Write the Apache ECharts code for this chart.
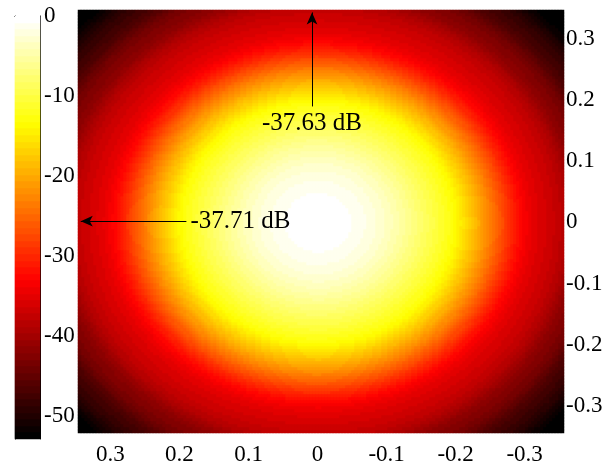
<!DOCTYPE html>
<html>
<head>
<meta charset="utf-8">
<script src="https://cdn.jsdelivr.net/npm/echarts@6/dist/echarts.min.js"></script>
<style>
  html, body { margin: 0; padding: 0; background: #fff; }
  #chart { width: 609px; height: 471px; }
</style>
</head>
<body>
<div id="chart"></div>
<script>
// Radial beam profile (dB), one sample every 0.01 from the beam centre outwards
const profileStep = 0.01;
const profileDb = [
  0, -0.04, -0.15, -0.33, -0.58, -0.88, -1.25, -1.7, -2.2, -2.8,
  -3.5, -4.3, -5.2, -6.1, -7.1, -8.1, -9.1, -10.1, -11.2, -12.3,
  -13.6, -15.4, -17.3, -19.2, -21.2, -23.3, -25.5, -27.7, -29.9, -31.9,
  -33.5, -34.7, -35.6, -36.3, -37.0, -37.8, -38.9, -40.4, -41.8, -42.6,
  -43.4, -44.9, -46.5, -47.6, -48.3, -49.5, -51.0, -52.2, -52.7, -52.9,
  -52.9, -52.9
];

// Axis extents and tick labels
const xRange = [-0.357, 0.347];
const yRange = [-0.345, 0.348];
const xTicks = [0.3, 0.2, 0.1, 0, -0.1, -0.2, -0.3];
const yTicks = [0.3, 0.2, 0.1, 0, -0.1, -0.2, -0.3];
const dbRange = [-52.9, 0];
const cbTicks = [0, -10, -20, -30, -40, -50];

// Edge readouts with arrows
const annotations = [
  { text: '-37.63 dB', from: [0.008, 0.19], to: [0.008, 0.344] },
  { text: '-37.71 dB', from: [0.19, 0.002], to: [0.343, 0.002] }
];

// "hot" colour map: black -> red -> yellow -> white, 64 levels
const hotStops = ['#000000', '#550000', '#aa0000', '#ff0000', '#ff5500',
                  '#ffaa00', '#ffff00', '#ffff80', '#ffffff'];
const levels = 64;

const FONT = 'Liberation Serif';
// image cells: 3 px each over a 486 x 423 plot area
const nx = 162, ny = 141;
// colour bar rows: 1 px each over its 423 px height
const cbRows = 423;

function profileAt(r) {
  const p = r / profileStep;
  const i = Math.floor(p);
  if (i >= profileDb.length - 1) return profileDb[profileDb.length - 1];
  const f = p - i;
  return profileDb[i] * (1 - f) + profileDb[i + 1] * f;
}

function clampDb(v) {
  return Math.max(dbRange[0] + 0.001, Math.min(dbRange[1] - 0.001, v));
}

const dx = (xRange[1] - xRange[0]) / nx;
const dy = (yRange[1] - yRange[0]) / ny;
const xCats = [], yCats = [];
for (let i = 0; i < nx; i++) xCats.push((xRange[0] + (i + 0.5) * dx).toFixed(5));
for (let j = 0; j < ny; j++) yCats.push((yRange[0] + (j + 0.5) * dy).toFixed(5));

const beam = [];
for (let i = 0; i < nx; i++) {
  const x = +xCats[i];
  for (let j = 0; j < ny; j++) {
    const y = +yCats[j];
    beam.push([i, j, clampDb(profileAt(Math.hypot(x, y)))]);
  }
}

// Colour bar rows spanning the dB range
const cbCats = [], cbData = [];
const rowStep = (dbRange[1] - dbRange[0]) / cbRows;
for (let k = 0; k < cbRows; k++) {
  cbCats.push(String(k));
  cbData.push([0, k, clampDb(dbRange[0] + (k + 0.5) * rowStep)]);
}

const tickLabel = { fontFamily: FONT, fontSize: 23, color: '#000' };
const hidden = { show: false };
const frameLine = { show: true, lineStyle: { color: '#000', width: 1 } };

const chart = echarts.init(document.getElementById('chart'), null, { renderer: 'canvas' });
chart.setOption({
  animation: false,
  backgroundColor: '#fff',
  grid: [
    { left: 78, top: 10, width: 486, height: 423, containLabel: false },
    { left: 15, top: 16, width: 25, height: 423, containLabel: false }
  ],
  xAxis: [
    { type: 'category', gridIndex: 0, data: xCats, inverse: true, show: false },
    {
      type: 'value', gridIndex: 0, min: xRange[0], max: xRange[1], inverse: true,
      position: 'bottom',
      axisLine: hidden, axisTick: hidden, splitLine: hidden,
      axisLabel: Object.assign({ customValues: xTicks, margin: 10 }, tickLabel)
    },
    {
      type: 'category', gridIndex: 1, data: ['cb'], position: 'bottom',
      axisLine: frameLine, axisTick: hidden, axisLabel: hidden
    },
    {
      type: 'category', gridIndex: 1, data: ['cb'], position: 'top',
      axisLine: frameLine, axisTick: hidden, axisLabel: hidden
    }
  ],
  yAxis: [
    { type: 'category', gridIndex: 0, data: yCats, show: false },
    {
      type: 'value', gridIndex: 0, min: yRange[0], max: yRange[1],
      position: 'right',
      axisLine: hidden, axisTick: hidden, splitLine: hidden,
      axisLabel: Object.assign({ customValues: yTicks, margin: 2 }, tickLabel)
    },
    { type: 'category', gridIndex: 1, data: cbCats, show: false },
    {
      type: 'value', gridIndex: 1, min: dbRange[0], max: dbRange[1],
      position: 'right',
      axisLine: frameLine,
      axisTick: { show: true, inside: true, length: 4, customValues: cbTicks, lineStyle: { color: '#000' } },
      splitLine: hidden,
      axisLabel: Object.assign({ customValues: cbTicks, margin: 4 }, tickLabel)
    },
    {
      type: 'value', gridIndex: 1, min: dbRange[0], max: dbRange[1],
      position: 'left',
      axisLine: frameLine,
      axisTick: { show: true, inside: true, length: 4, customValues: cbTicks, lineStyle: { color: '#000' } },
      splitLine: hidden, axisLabel: hidden
    }
  ],
  visualMap: {
    type: 'piecewise',
    show: false,
    min: dbRange[0],
    max: dbRange[1],
    splitNumber: levels,
    seriesIndex: [0, 1],
    dimension: 2,
    inRange: { color: hotStops }
  },
  series: [
    {
      type: 'heatmap', xAxisIndex: 0, yAxisIndex: 0,
      data: beam, progressive: 0, silent: true,
      itemStyle: { borderWidth: 0 }
    },
    {
      type: 'heatmap', xAxisIndex: 2, yAxisIndex: 2,
      data: cbData, progressive: 0, silent: true,
      itemStyle: { borderWidth: 0 }
    },
    {
      type: 'line', xAxisIndex: 1, yAxisIndex: 1, data: [],
      markLine: {
        silent: true,
        animation: false,
        symbol: ['none', 'arrow'],
        symbolSize: [8, 12],
        lineStyle: { color: '#000', width: 1, type: 'solid' },
        label: {
          show: true, position: 'start', formatter: '{b}', distance: 4,
          fontFamily: FONT, fontSize: 25, color: '#000'
        },
        data: annotations.map(a => [
          { coord: a.from, name: a.text },
          { coord: a.to }
        ])
      }
    }
  ]
});
</script>
</body>
</html>
